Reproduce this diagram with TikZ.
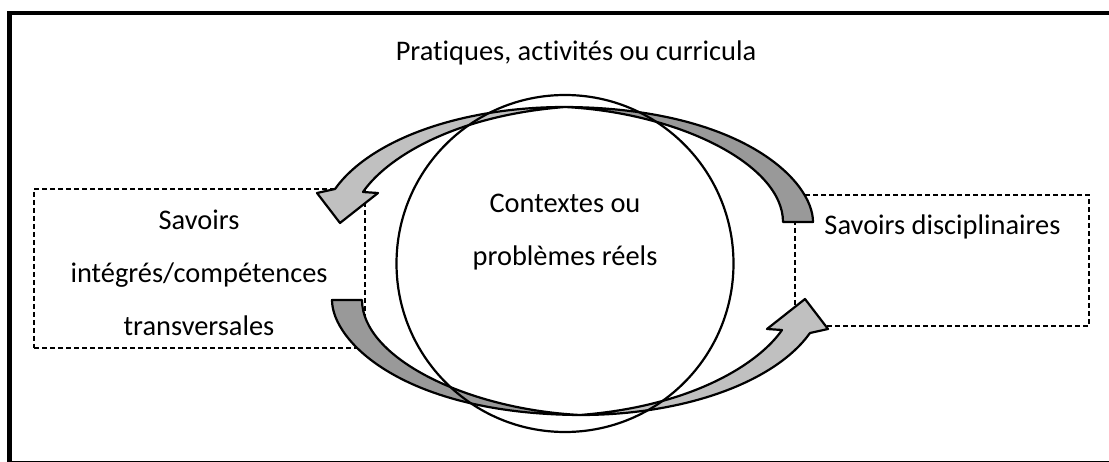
\documentclass[tikz,border=0pt]{standalone}
\usepackage[dvipsnames]{xcolor}
\usepackage{fontspec}
\setmainfont{Carlito}[Ligatures=NoCommon]
\usepackage{tikz}
\definecolor{backgray}{RGB}{153,153,153}
\definecolor{frontgray}{RGB}{192,192,192}

\begin{document}
\begin{tikzpicture}[x=1pt, y=-1pt, every node/.style={font=\fontsize{28.4}{53}\selectfont, align=center},
  dashbox/.style={draw, line width=1.5pt, dash pattern=on 5pt off 3pt, inner sep=0pt},
  band/.style={draw, line width=2.2pt, line join=round}]
\useasboundingbox (0,0) rectangle (1109,462);
\clip (0,0) rectangle (1109,462);
\draw[line width=4.5pt] (9.5,13) rectangle (1115,463.5);
\node (pratiques) at (576,53) {Pratiques, activités ou curricula};
\node[dashbox, minimum width=331pt, minimum height=159pt] (boxL) at (199.5,268.5) {};
\node[dashbox, minimum width=294pt, minimum height=131pt] (boxR) at (942,260.5) {};
\node (savoirsL) at (199,273) {Savoirs\\intégrés/compétences\\transversales};
\node (savoirsR) at (942.5,227) {Savoirs disciplinaires};
% top arrow, right to left
\draw[band, fill=backgray] (565,107) .. controls (740,108) and (813,180) .. (813,222) -- (783,222) .. controls (783,165) and (680,113) .. (565,107) -- cycle;
\draw[band, fill=frontgray] (565,107) .. controls (460,107) and (370,140) .. (335,189) -- (317,193) -- (340,223) -- (378,193) -- (363,192) .. controls (385,160) and (450,116) .. (565,107) -- cycle;
% bottom arrow, left to right
\begin{scope}[rotate around={180:(572.5,261)}]
\draw[band, fill=backgray] (565,107) .. controls (740,108) and (813,180) .. (813,222) -- (783,222) .. controls (783,165) and (680,113) .. (565,107) -- cycle;
\draw[band, fill=frontgray] (565,107) .. controls (460,107) and (370,140) .. (335,189) -- (317,193) -- (340,223) -- (378,193) -- (363,192) .. controls (385,160) and (450,116) .. (565,107) -- cycle;
\end{scope}
\node[draw, circle, line width=2.2pt, minimum size=337pt, inner sep=0pt] (cercle) at (565,263.5) {};
\node (contextes) at (565,232) {Contextes ou\\problèmes réels};
\end{tikzpicture}
\end{document}
